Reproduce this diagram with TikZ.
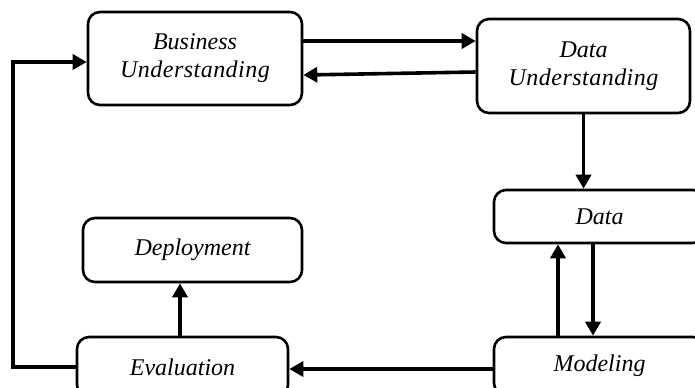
\documentclass[tikz,border=0pt]{standalone}
\usepackage{fontspec}
\setmainfont{Liberation Serif}
\newfontfamily\widefont[LetterSpace=2]{Liberation Serif}
\usetikzlibrary{arrows.meta}
\tikzset{
  stage/.style={draw, line width=1.3pt, rounded corners=6pt, align=center, inner sep=0pt,
    font=\itshape\fontsize{12}{14}\selectfont},
  flow/.style={line width=1.8pt, -{Triangle[length=7pt,width=7.5pt]}}
}
\begin{document}
\begin{tikzpicture}[x=0.5pt,y=-0.5pt]
  \clip (0,0) rectangle (695,387);
  \node[stage, minimum width=107pt, minimum height=46.5pt] (bu) at (195,58.5) {Business\\{\widefont\itshape Understanding}};
  \node[stage, minimum width=106.5pt, minimum height=47pt] (du) at (583.5,66) {Data\\{\widefont\itshape Understanding}};
  \node[stage, minimum width=105.5pt, minimum height=26.5pt] (data) at (599.5,216.5) {Data};
  \node[stage, minimum width=105.5pt, minimum height=29pt] (model) at (599.5,366) {Modeling};
  \node[stage, minimum width=105.5pt, minimum height=30pt] (eval) at (182.5,367) {Evaluation};
  \node[stage, minimum width=109.5pt, minimum height=32pt] (deploy) at (192.5,250) {Deployment};
  \coordinate (fb) at (13,62);
  \draw[flow] (bu.east |- 0,41) -- (du.west |- 0,41);
  \draw[flow] (du.west |- 0,72) -- (bu.east |- 0,75);
  \draw[flow] (du.south) -- (du.south |- data.north);
  \draw[flow] (model.north -| 558,0) -- (data.south -| 558,0);
  \draw[flow] (data.south -| 593,0) -- (model.north -| 593,0);
  \draw[flow] (model.west |- 0,369) -- (eval.east |- 0,369);
  \draw[flow] (eval.north -| 180,0) -- (deploy.south -| 180,0);
  \draw[flow] (eval.west) -| (fb) -- (fb -| bu.west);
\end{tikzpicture}
\end{document}
